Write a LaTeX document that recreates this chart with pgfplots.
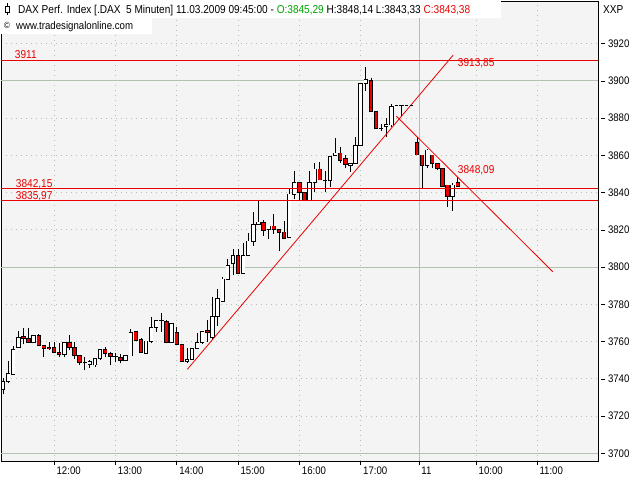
\documentclass[border=0pt]{standalone}
\usepackage{pgfplots}
\pgfplotsset{compat=1.18}
\usepackage{pgfplotstable}
\usepackage{fontspec}
\setmainfont{Liberation Sans}
\newfontfamily\cf[FakeStretch=0.88]{Liberation Sans}
\definecolor{cred}{RGB}{235,0,0}
\definecolor{cgreen}{RGB}{0,165,0}
\definecolor{gridc}{RGB}{176,194,176}
\definecolor{bgc}{RGB}{244,244,244}

\pgfplotstableread{
k o h l c
0 3734.3 3740.2 3731.7 3738.8
1 3738.4 3749.5 3737.9 3742.9
2 3742.4 3757.9 3742.4 3755.8
3 3756.9 3765.8 3756.9 3762.3
4 3762.6 3767.1 3758.5 3761.8
5 3761.7 3767.1 3759.4 3759.6
6 3759.4 3763.8 3759.2 3763.5
7 3763.5 3764.1 3757.6 3757.8
8 3758.1 3758.1 3751.9 3756.3
9 3756.9 3759.6 3755.4 3756.4
10 3756.9 3759.6 3754.2 3754.2
11 3754.2 3759.0 3751.5 3752.9
12 3752.9 3759.6 3751.5 3759.6
13 3759.6 3763.5 3755.4 3756.9
14 3756.9 3759.6 3750.9 3752.4
15 3752.4 3752.4 3747.4 3748.8
16 3748.8 3751.5 3744.6 3748.8
17 3747.9 3750.2 3745.6 3749.2
18 3747.4 3750.9 3746.5 3750.9
19 3750.9 3755.8 3750.1 3755.8
20 3755.8 3757.2 3751.5 3753.7
21 3753.7 3754.5 3747.4 3751.9
22 3751.9 3753.7 3748.8 3751.9
23 3751.5 3753.3 3748.3 3749.7
24 3749.7 3752.6 3749.7 3752.6
25 3752.3 3766.6 3752.3 3765.0
26 3765.5 3765.5 3760.5 3760.5
27 3761.2 3761.7 3754.0 3754.0
28 3753.5 3760.3 3753.5 3760.3
29 3759.9 3773.0 3759.0 3767.6
30 3767.6 3771.4 3765.3 3771.4
31 3771.2 3775.2 3765.3 3771.2
32 3770.6 3771.6 3759.4 3759.4
33 3759.4 3769.8 3759.4 3769.8
34 3765.0 3768.0 3758.5 3758.5
35 3758.5 3758.5 3749.2 3749.2
36 3749.2 3756.4 3748.3 3750.5
37 3750.5 3756.4 3750.5 3756.4
38 3756.4 3764.4 3756.0 3759.6
39 3759.6 3765.3 3758.8 3765.3
40 3766.0 3771.6 3759.9 3764.9
41 3762.0 3784.1 3760.8 3773.3
42 3773.3 3788.5 3768.5 3783.2
43 3781.4 3794.8 3781.4 3793.6
44 3793.4 3804.1 3793.4 3800.9
45 3801.8 3809.5 3795.8 3806.3
46 3806.3 3810.0 3796.1 3796.6
47 3796.6 3812.8 3796.6 3806.3
48 3806.3 3818.5 3806.3 3814.0
49 3813.7 3829.8 3811.4 3823.0
50 3823.0 3835.4 3823.0 3824.2
51 3824.1 3825.4 3816.9 3819.8
52 3820.3 3822.1 3815.1 3822.1
53 3822.1 3828.6 3817.8 3820.1
54 3820.3 3820.3 3808.7 3818.7
55 3818.9 3825.0 3815.3 3815.3
56 3816.1 3842.6 3816.1 3839.3
57 3839.2 3851.5 3836.5 3845.6
58 3845.6 3845.6 3836.0 3840.2
59 3840.2 3840.2 3836.0 3836.0
60 3835.7 3851.6 3835.7 3845.6
61 3845.6 3855.8 3840.2 3852.7
62 3852.7 3856.3 3846.8 3846.8
63 3846.4 3851.8 3840.2 3846.4
64 3846.3 3859.5 3843.2 3859.5
65 3859.8 3869.5 3859.8 3861.3
66 3861.3 3864.7 3855.8 3857.4
67 3858.2 3860.3 3853.1 3855.3
68 3854.5 3855.8 3851.3 3855.8
69 3855.8 3869.7 3855.8 3865.4
70 3865.4 3898.7 3865.4 3898.7
71 3898.7 3907.7 3894.8 3900.9
72 3900.1 3901.4 3883.5 3883.5
73 3883.5 3883.5 3874.6 3874.6
74 3874.3 3877.1 3873.0 3874.3
75 3875.4 3880.0 3869.7 3876.6
76 3876.3 3887.5 3875.0 3886.3
78 3886.8 3886.8 3881.0 3886.8
81 3866.8 3869.7 3860.2 3860.2
82 3860.2 3860.2 3842.3 3854.7
83 3854.7 3863.3 3853.1 3862.9
84 3860.2 3860.4 3853.1 3855.7
85 3855.7 3855.7 3852.1 3853.0
86 3853.0 3853.0 3843.2 3843.5
87 3844.1 3844.1 3832.5 3837.8
88 3837.8 3845.0 3830.4 3844.1
89 3845.29 3848.14 3843.33 3843.38
}\candles

\pgfplotsset{
  cndl/.style={only marks, mark=text, text mark={}, forget plot, unbounded coords=discard,
    error bars/.cd, y dir=plus, y explicit, error mark=none,
    error bar style={line cap=butt, solid, #1}},
}

\begin{document}
\begin{tikzpicture}
\useasboundingbox (0,0) rectangle (640bp,480bp);
\fill[white] (0,0) rectangle (640bp,480bp);
\begin{axis}[
  at={(1bp,19bp)}, anchor=south west,
  width=597bp, height=460bp, scale only axis,
  xmin=-0.39, xmax=116.44, ymin=3695.9, ymax=3942.9,
  axis background/.style={fill=bgc},
  axis line style={black, line width=0.8bp},
  xtick={10,22,34,46,58,70,81.4,92.6,104.5},
  xticklabels={12:00,13:00,14:00,15:00,16:00,17:00,11,10:00,11:00},
  ytick={3700,3720,...,3920},
  xtick pos=bottom, ytick pos=right, yticklabel pos=right,
  tick align=outside, major tick length=4bp,
  tick style={black, line width=0.6bp},
  ytick style={xshift=3bp},
  grid=major,
  major grid style={gridc, line width=0.8bp, dash pattern=on 0.8bp off 4.2bp},
  extra y ticks={3700,3800,3900}, extra y tick labels={},
  extra y tick style={major grid style={gridc, solid, line width=0.8bp}},
  extra x ticks={81.4}, extra x tick labels={},
  extra x tick style={major grid style={gridc, solid, line width=0.8bp}},
  yticklabel style={font=\cf\fontsize{11}{12}\selectfont, anchor=west, xshift=2.5bp},
  xticklabel style={font=\cf\fontsize{11}{12}\selectfont, anchor=north west, xshift=-1bp, yshift=2bp},
  /pgf/number format/1000 sep={},
  /pgf/number format/assume math mode=true,
]
% wicks
\addplot[cndl={black, line width=0.8bp}] table[x=k, y=l,
  y error plus expr={\thisrow{h}-\thisrow{l}}] {\candles};
% body outlines
\addplot[cndl={black, line width=4.4bp}] table[x=k,
  y expr={min(\thisrow{o},\thisrow{c})-0.22},
  y error plus expr={abs(\thisrow{c}-\thisrow{o})+0.44}] {\candles};
% red bodies
\addplot[cndl={cred, line width=2.8bp}] table[
  x expr={\thisrow{c}<\thisrow{o} ? \thisrow{k} : nan},
  y expr={min(\thisrow{o},\thisrow{c})+0.22},
  y error plus expr={max(abs(\thisrow{c}-\thisrow{o})-0.44,0)}] {\candles};
% white bodies
\addplot[cndl={white, line width=2.8bp}] table[
  x expr={\thisrow{c}<\thisrow{o} ? nan : \thisrow{k}},
  y expr={min(\thisrow{o},\thisrow{c})+0.22},
  y error plus expr={max(abs(\thisrow{c}-\thisrow{o})-0.44,0)}] {\candles};
% horizontal levels
\addplot[cred, line width=0.8bp, forget plot] coordinates {(-1,3911) (118,3911)};
\addplot[cred, line width=0.8bp, forget plot] coordinates {(-1,3842.15) (118,3842.15)};
\addplot[cred, line width=0.8bp, forget plot] coordinates {(-1,3835.97) (118,3835.97)};
% trend lines
\addplot[cred, line width=0.8bp, forget plot] coordinates {(36.07,3745.1) (88.1,3913.85)};
\addplot[cred, line width=0.8bp, forget plot] coordinates {(77.0,3881.0) (107.6,3797.5)};
% gap line
\addplot[black, line width=0.8bp, dash pattern=on 3bp off 2bp, forget plot] coordinates {(76.7,3886.8) (80.4,3886.8)};
% labels
\node[anchor=base west, inner sep=0, text=cred, font=\cf\fontsize{11.5}{12}\selectfont, yshift=2bp] at (axis cs:2.3,3911) {3911};
\node[anchor=base west, inner sep=0, text=cred, font=\cf\fontsize{11.5}{12}\selectfont, yshift=1.5bp] at (axis cs:2.5,3842.15) {3842,15};
\node[anchor=base west, inner sep=0, text=cred, font=\cf\fontsize{11.5}{12}\selectfont, yshift=1bp] at (axis cs:2.5,3835.97) {3835,97};
\node[anchor=west, inner sep=0, text=cred, font=\cf\fontsize{11.5}{12}\selectfont] at (axis cs:89.0,3909.5) {3913,85};
\node[anchor=west, inner sep=0, text=cred, font=\cf\fontsize{11.5}{12}\selectfont] at (axis cs:89.0,3852.1) {3848,09};
\end{axis}
\begin{scope}[x=1bp,y=1bp]
\fill[white] (0,462) rectangle (501,480);
\fill[white] (0,446) rectangle (152,462);
\draw[black, line width=0.8bp] (7.5,477) -- (7.5,465);
\draw[black, fill=white, line width=0.8bp] (5.5,468) rectangle (9.5,474);
\node[anchor=base west, inner sep=0, font=\cf\fontsize{11.5}{12}\selectfont] at (18,466)
  {DAX Perf. Index [.DAX\ \ 5 Minuten] 11.03.2009 09:45:00 - \textcolor{cgreen}{O:3845,29} H:3848,14 L:3843,33 \textcolor{cred}{C:3843,38}};
\node[anchor=base west, inner sep=0, font=\cf\fontsize{9}{10}\selectfont] at (4,451) {©};
\node[anchor=base west, inner sep=0, font=\cf\fontsize{11}{12}\selectfont] at (16,450) {www.tradesignalonline.com};
\node[anchor=base west, inner sep=0, font=\cf\fontsize{11.5}{12}\selectfont] at (603,466) {XXP};
\end{scope}
\end{tikzpicture}
\end{document}
